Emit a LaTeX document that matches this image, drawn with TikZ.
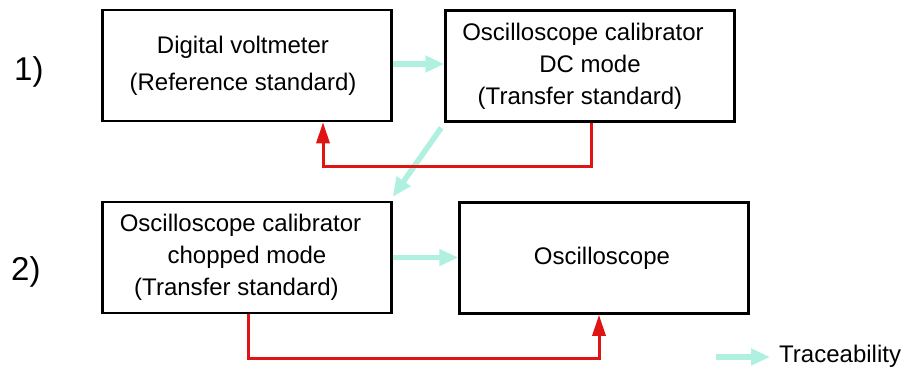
\documentclass[tikz,border=0pt]{standalone}
\usepackage{fontspec}
\setmainfont{Liberation Sans}
\usetikzlibrary{arrows.meta,calc}
\definecolor{trace}{RGB}{175,240,225}
\definecolor{loopred}{RGB}{225,20,20}
\begin{document}
\begin{tikzpicture}[x=1pt,y=-1pt,
  box/.style={draw=black,line width=2.5pt,minimum width=289pt,minimum height=111pt,
    inner sep=0pt,align=center,font=\fontsize{24}{32}\selectfont},
  numlabel/.style={font=\fontsize{33}{36}\selectfont,anchor=base west,inner sep=0pt},
  tracearrow/.style={draw=trace,line width=5.5pt,-{Triangle[length=19pt,width=16pt]}},
  redarrow/.style={draw=loopred,line width=3pt,-{Triangle[length=21pt,width=13pt]}}]
\useasboundingbox (0,0) rectangle (906,368);
\fill[white] (0,0) rectangle (906,368);

\node[box] (b1) at (247,65.5) {Digital voltmeter\hspace*{8pt}\\[5pt](Reference standard)\hspace*{8pt}};
\node[box] (b2) at (590,66) {Oscilloscope calibrator\hspace*{14pt}\\DC mode\\(Transfer standard)\hspace*{20pt}};
\node[box] (b3) at (247,257.5) {Oscilloscope calibrator\hspace*{13pt}\\chopped mode\hspace*{27pt}\\(Transfer standard)\hspace*{21pt}};
\node[box] (b4) at (604,258) {Oscilloscope\hspace*{4pt}};

\node[numlabel] (n1) at (14,80) {1)};
\node[numlabel] (n2) at (11,280) {2)};

% traceability arrows
\draw[tracearrow] ([yshift=1.5pt]b1.east) -- ([yshift=1.5pt]b1.east -| b2.west);
\draw[tracearrow] ($(b2.south west)+(-3,5)$) -- ($(b3.north east)+(0,-4)$);
\draw[tracearrow] (b3.east) -- (b3.east -| b4.west);

% red loops
\draw[redarrow] ([xshift=1pt]b2.south) -- ++(0,44) -| ([xshift=76pt]b1.south);
\draw[redarrow] ([xshift=1pt]b3.south) -- ++(0,44) -| ([xshift=-5pt]b4.south);

% legend
\node[anchor=base west,inner sep=0pt,font=\fontsize{24}{28}\selectfont] (lg) at (779,362) {Traceability};
\coordinate (lgs) at (716,357);
\draw[tracearrow,shorten >=9pt] (lgs) -- (lgs -| lg.west);
\end{tikzpicture}
\end{document}
